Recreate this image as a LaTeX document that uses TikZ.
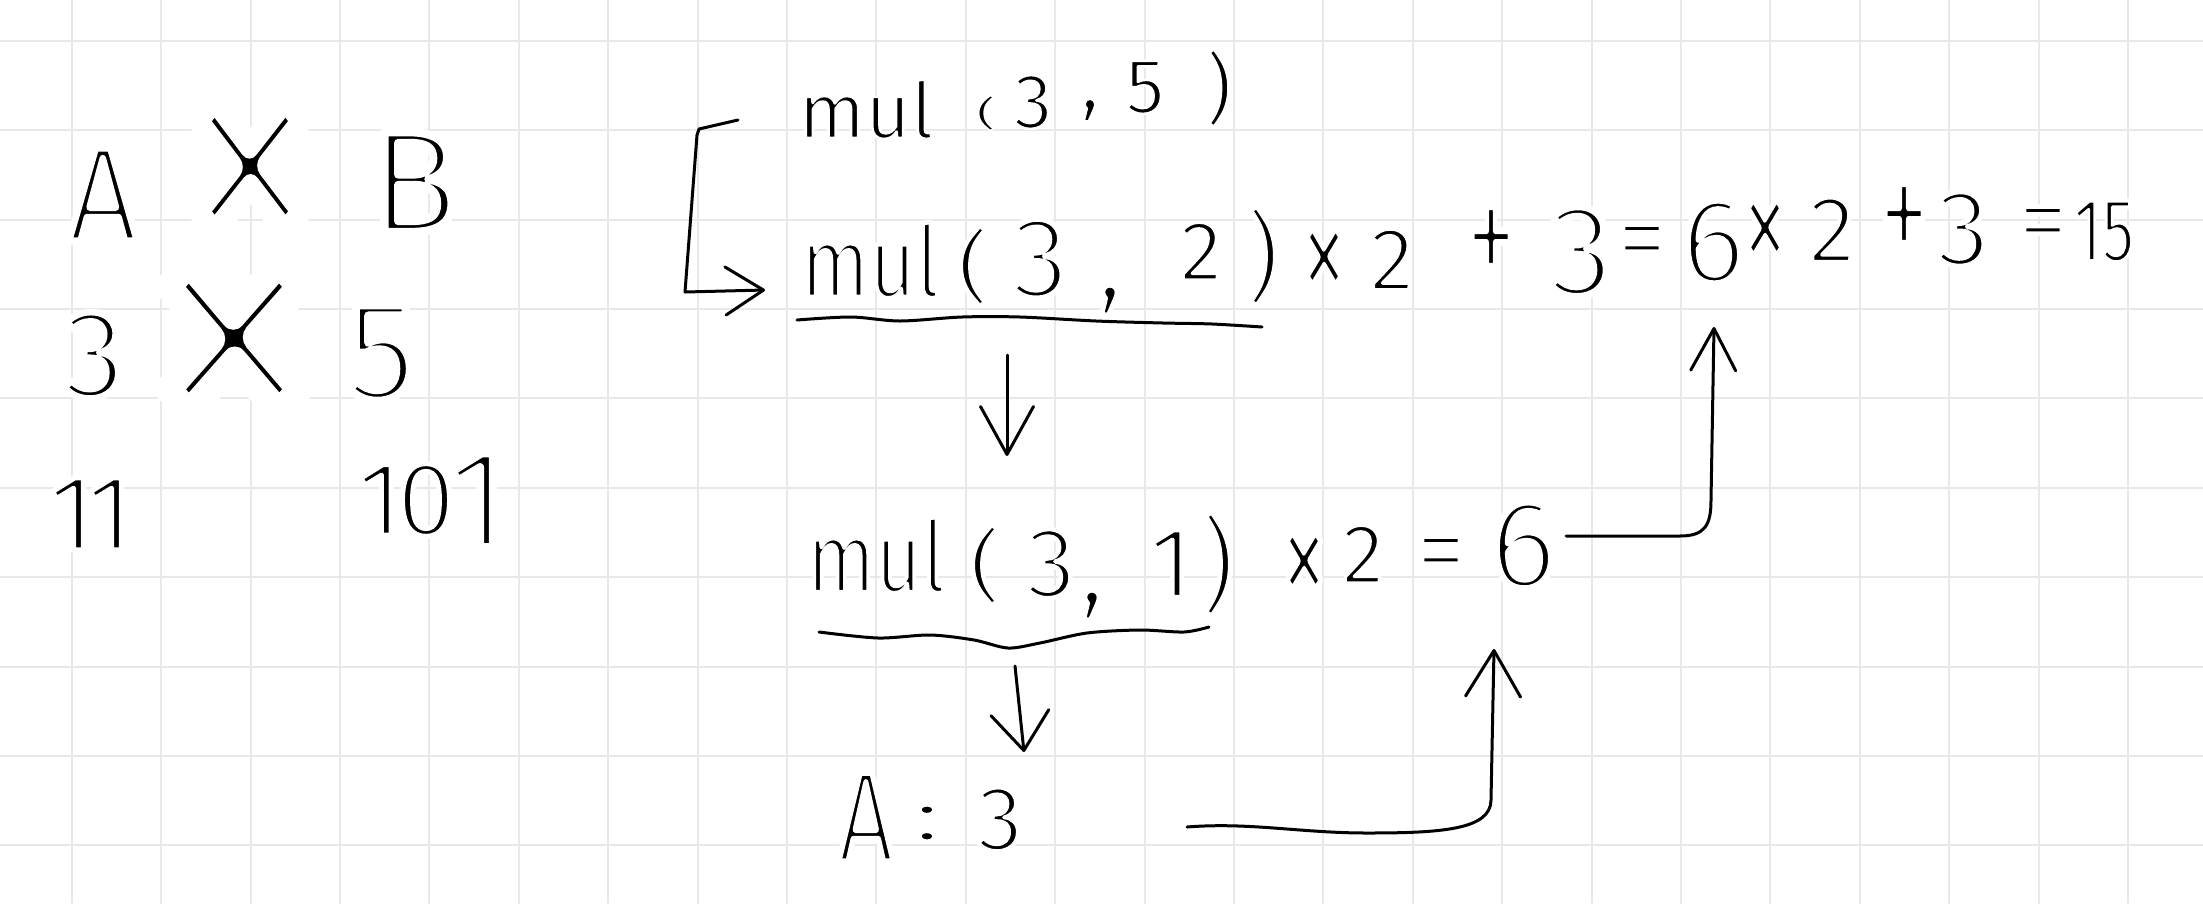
\documentclass[tikz,border=0pt]{standalone}
\usepackage{fontspec}
\usepackage{graphicx}
\setmainfont{Fira Sans}
\usetikzlibrary{arrows.meta,calc}
\makeatletter
\newcommand\thinnow{\special{pdf:literal direct 2 Tr \strip@pt\dimexpr0.085\dimexpr\f@size pt\relax-4pt\relax\space w 1 G}}
\makeatother
\newcommand\thin[1]{\special{pdf:literal direct 2 Tr #1 w 1 G}}
\newcommand\fs[1]{\fontsize{#1}{#1}\selectfont}
\newcommand\fz[1]{\fontsize{#1}{#1}\selectfont\thinnow}
\newcommand\T[2]{\makebox[0pt]{\raisebox{#1pt}{\thinnow#2}}}
\newcommand\G[1]{\kern#1pt\relax}
\newcommand\CC[1]{\raisebox{\dimexpr0.5\depth-0.5\height\relax}{#1}}
\newcommand\mX{\CC{\scalebox{0.95}[1.6]{×}}}
\newcommand\mP{\CC{\scalebox{1}[1.6]{+}}}
\newcommand\mE{\CC{=}}
\begin{document}
\begin{tikzpicture}[x=1pt,y=-1pt,line cap=round,line join=round,
  gridln/.style={draw=gray!18,line width=2pt},
  hand/.style={inner sep=0pt,outer sep=0pt,anchor=base west,text=black},
  pen/.style={draw=black,line width=3pt},
  arr/.style 2 args={pen,-{Straight Barb[length=#1pt,width=#2pt,round]}}]
\fill[white] (0,0) rectangle (2203,903);
\useasboundingbox (0,0) rectangle (2203,903);
\foreach \i in {0,...,23} \draw[gridln] ({71.7+89.4*\i},0) -- ({71.7+89.4*\i},903);
\foreach \j in {0,...,9} \draw[gridln] (0,{40.7+89.4*\j}) -- (2203,{40.7+89.4*\j});
% left column
\node[hand,anchor=base,font={\fs{135}}] (lA) at (103,241) {\thinnow\scalebox{0.9}[1]{A}};
\node[inner sep=0pt,font={\fs{100}}] (lx1) at (250,190) {\makebox[50pt]{\thin{6.6}\scalebox{2.9}[3.7]{×}}};
\node[hand,anchor=base,font={\fs{145}}] (lB) at (414,232) {\thinnow B};
\node[hand,anchor=base,font={\fs{125}}] (l3) at (94,397) {\thinnow 3};
\node[inner sep=0pt,font={\fs{100}}] (lx2) at (234,365) {\makebox[60pt]{\thin{6.8}\scalebox{3.7}[4.2]{×}}};
\node[hand,anchor=base,font={\fs{140}}] (l5) at (381,399) {\thinnow 5};
\node[hand,font={\fs{108}}] (l11) at (52,550) {\G{20}\T{0}{1}\G{38}\T{0}{1}\G{20}};
\node[hand,font={\fs{105}}] (l101) at (360,535) {\G{20}\T{0}{1}\G{46}\T{0}{0}\G{52}\T{-12}{\fz{140}1}\G{20}};
% row 1
\node[hand,font={\fs{78}}] (n35) at (800,135) {\G{66}\T{-3}{mul}\G{120}\T{22}{\CC{\scalebox{0.8}[0.45]{(}}}\G{47}\T{7}{3}\G{57}\T{25}{\CC{,}}\G{55}\T{22}{5}\G{74}\T{47}{\CC{)}}\G{16}};
% row 2
\node[hand,font={\fs{100}}] (n32) at (811,297) {\G{59}\T{0}{\scalebox{0.8}[1]{mul}}\G{103}\T{31}{\CC{\scalebox{1}[0.8]{(}}}\G{67}\T{0}{\fz{115}3}\G{70}\T{-3}{\CC{,}}\G{91}\T{17}{\fz{85}2}\G{62}\T{41}{\CC{)}}\G{15}};
\node[hand,font={\fs{100}}] (n32b) at (1304,293) {\G{20}\T{26}{\mX}\G{68}\T{3}{\fz{90}2}\G{99}\T{45}{\mP}\G{90}\T{-2}{\fz{130}3}\G{61}\T{45}{\mE}\G{23}};
\node[hand,anchor=base,font={\fs{120}}] (n6a) at (1713,282) {\thinnow 6};
\node[hand,font={\fs{100}}] (n32c) at (1745,265) {\G{20}\T{27}{\mX}\G{67}\T{3}{\fz{95}2}\G{72}\T{40}{\mP}\G{59}\T{0}{\fz{108}3}\G{80}\T{35}{\mE}\G{61}\T{4}{\fz{90}\scalebox{0.72}[1]{15}}\G{26}};
% row 3
\node[hand,font={\fs{100}}] (n31) at (819,592) {\G{57}\T{0}{\scalebox{0.8}[1]{mul}}\G{109}\T{27}{\CC{\scalebox{1}[0.8]{(}}}\G{66}\T{-5}{3}\G{41}\T{-13}{\CC{,}}\G{79}\T{-5}{1}\G{47}\T{28}{\CC{\scalebox{1}[1.05]{)}}}\G{22}};
\node[hand,font={\fs{100}}] (n31b) at (1281,583) {\G{23}\T{12}{\mX}\G{59}\T{0}{\fz{85}2}\G{78}\T{23}{\mE}\G{26}};
\node[hand,anchor=base,font={\fs{125}}] (n6b) at (1523,587) {\thinnow 6};
% row 4
\node[hand,font={\fs{120}}] (n4) at (839,855) {\G{27}\T{-7}{\fz{130}\scalebox{0.75}[1]{A}}\G{61}\T{32}{\CC{\scalebox{1}[0.6]{:}}}\G{73}\T{5}{\fz{92}3}\G{28}};
% underlines
\draw[pen] plot[smooth] coordinates {(797,320) (851,317) (900,321) (962,317) (1020,317) (1096,321) (1163,323) (1212,324) (1262,327)};
\draw[pen] plot[smooth] coordinates {(819,632) (878,638) (930,635) (974,640) (1008,648) (1040,643) (1087,633) (1140,630) (1184,632) (1209,627)};
% connectors
\draw[arr={38}{48}] ($(n35.base west)+(-62,-15)$) -- ++(-39,9) -- ++(-2,6) -- ++(-12,157) -- ($(n32.base west)+(-46,-7)$);
\draw[arr={48}{53}] ($(n32.base west)+(196,58)$) -- ($(n31.base west)+(188,-136)$);
\draw[arr={38}{58}] ($(n31.base west)+(196,74)$) -- ($(n4.base west)+(185,-103)$);
\draw[arr={46}{55}] ($(n4.base west)+(348,-28)$) .. controls (1250,822) and (1300,833) .. (1367,833) .. controls (1440,833) and (1491,830) .. (1491,800) -- ($(n6b.base)+(-29,62)$);
\draw[arr={42}{45}] ($(n6b.base)+(43,-51)$) -- ++(114,0) .. controls +(25,0) and +(0,25) .. ++(31,-36) -- ($(n6a.base)+(1,45)$);
\end{tikzpicture}
\end{document}
